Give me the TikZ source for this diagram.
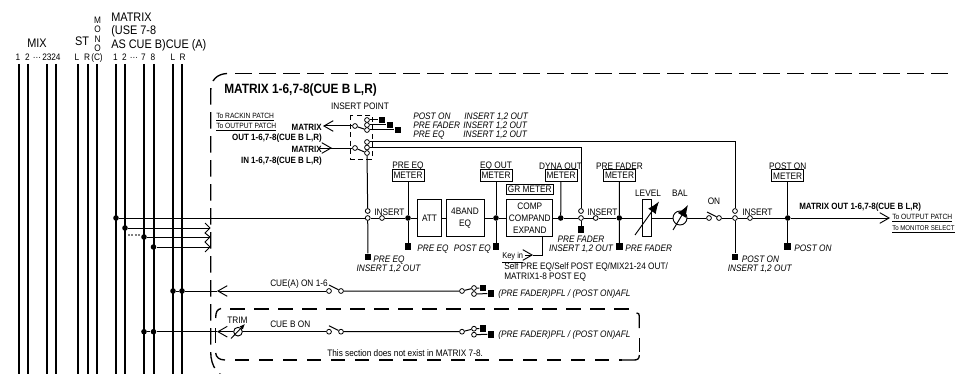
\documentclass[tikz,border=0pt]{standalone}
\usepackage{fontspec}
\setmainfont[FakeStretch=0.88]{Liberation Sans}
\usetikzlibrary{arrows.meta}
\newcommand{\fsN}{\fontsize{7.05}{7.5}\selectfont}
\newcommand{\fsS}{\fontsize{5.7}{6.5}\selectfont}
\newcommand{\fsH}{\fontsize{9.3}{10}\selectfont}
\newcommand{\fsT}{\fontsize{10.1}{11}\selectfont\bfseries}
\newcommand{\fsB}{\fontsize{6.8}{7.5}\selectfont\bfseries}
\tikzset{
  x=0.75pt,y=-0.75pt,
  conn/.style={line width=0.75pt},
  bus/.style={line width=1.5pt},
  thick dash/.style={line width=1pt},
  lbl/.style={inner sep=0pt,text height=.72em,text depth=0pt},
  txt/.style={lbl,font=\fsN},
  itxt/.style={lbl,font=\fsN\itshape},
  btxt/.style={lbl,font=\fsB},
  utxt/.style={lbl,font=\fsS},
  hdr/.style={lbl,font=\fsH},
  ttl/.style={lbl,font=\fsT},
  ring/.style={circle,draw,fill=white,inner sep=0pt,minimum size=3.6pt,line width=0.6pt},
  jdot/.style={circle,fill=black,inner sep=0pt,minimum size=4.2pt},
  sqr/.style={rectangle,fill=black,inner sep=0pt,minimum size=5.2pt},
  meterbox/.style={draw,rectangle,inner sep=0pt,minimum width=24pt,minimum height=9pt,line width=0.6pt,font=\fsN},
  blockbox/.style={draw,rectangle,inner sep=0pt,line width=0.7pt,minimum height=28pt,font=\fsN,align=center},
  barb/.style={-{Straight Barb[length=7pt,width=8pt,line width=0.7pt]},line width=0.75pt},
  bigarrow/.style={-{Latex[length=9pt,width=7pt]},line width=0.7pt},
}
\begin{document}
\begin{tikzpicture}
\clip (0,0) rectangle (955,374);
% header
\node[hdr] at (37,43) {MIX};
\node[hdr] at (82,41) {ST};
\node[hdr,anchor=west] at (165.5,44) {CUE (A)};
\node[hdr,anchor=west] at (111,17) {MATRIX};
\node[hdr,anchor=west] at (111,30) {(USE 7-8};
\node[hdr,anchor=west] at (111,44) {AS CUE B)};
\foreach \c/\y/\n in {M/19/m1,O/28/m2,N/37.5/m3,O/46.5/m4}
  \node[txt] (\n) at (97.5,\y) {\c};
\foreach \x/\t/\n in {18/1/a,27.5/2/b,37/···/c,47/23/d,56/24/e,77/L/f,87/R/g,97/(C)/h,115.5/1/i,124.5/2/j,134/···/k,143.5/7/l,153/8/m,173/L/n,182.5/R/o}
  \node[txt] (num\n) at (\x,56) {\t};
% buses
\foreach \x/\n in {18.5/a,28/b,47/c,56/d,78/e,87.5/f,97/g,116/h,125/i,144/j,153.5/k,173/l,182/m}{
  \coordinate (bt\n) at (\x,64);
  \coordinate (bb\n) at (\x,374);
  \draw[bus] (bt\n) -- (bb\n);
}
% outer dashed frame
\coordinate (oa) at (227,73.5);
\coordinate (ob) at (210.7,91);
\coordinate (oc) at (210.7,352);
\coordinate (od) at (232,378);
\coordinate (oe) at (235,73.5);
\coordinate (of) at (960,73.5);
\draw[thick dash,dash pattern=on 12.4pt off 5.6pt]
  (oa) .. controls (217,74) and (210.7,80) .. (ob) -- (oc) .. controls (210.7,366) and (218,378) .. (od);
\draw[thick dash,dash pattern=on 12.4pt off 5.6pt] (oe) -- (of);
% inner dashed frame
\coordinate (ia) at (230,309);
\coordinate (ib) at (632,309);
\draw[thick dash,dash pattern=on 11.2pt off 6.8pt] (ia) -- (ib);
\draw[thick dash] (221,308.5) .. controls (217,309.5) and (215.7,312) .. (215.7,318);
\draw[thick dash] (215.7,328) -- (215.7,343);
\draw[thick dash] (215.7,353) .. controls (216,357) and (219,360) .. (225,360);
\coordinate (ic) at (235,360);
\coordinate (id) at (622,360);
\draw[thick dash,dash pattern=on 10.2pt off 7.8pt] (ic) -- (id);
\draw[thick dash] (622,360) -- (634,360) .. controls (637.5,360) and (639.3,359) .. (639.3,355);
\draw[thick dash] (639.3,338) -- (639.3,352);
\draw[thick dash] (636.5,313) .. controls (638.5,313) and (639.3,314) .. (639.3,316) -- (639.3,328);
% title and patch labels
\node[ttl,anchor=west] at (224,89) {MATRIX 1-6,7-8(CUE B L,R)};
\node[txt] (ipt) at (360,105) {INSERT POINT};
\node[utxt,anchor=west] at (216,114) {\underline{To RACKIN PATCH}};
\node[utxt,anchor=west] at (216,124) {\underline{To OUTPUT PATCH}};
\node[btxt,anchor=east] at (322,126) {MATRIX};
\node[btxt,anchor=east] at (322,136) {OUT 1-6,7-8(CUE B L,R)};
\node[btxt,anchor=east] at (322,148) {MATRIX};
\node[btxt,anchor=east] at (322,159) {IN 1-6,7-8(CUE B L,R)};
% insert point switch
\draw[line width=0.6pt,dash pattern=on 4pt off 2.4pt] (350.7,115) rectangle (372,159);
\node[ring] (ro) at (355,126) {};
\node[ring] (ri) at (355,148) {};
\node[ring] (o1) at (367,120) {};
\node[ring] (o2) at (367,125) {};
\node[ring] (o3) at (367,130) {};
\node[ring] (i1) at (367,142) {};
\node[ring] (i2) at (367,147.5) {};
\node[ring] (i3) at (367,153) {};
\node[sqr] (s1) at (382,120) {};
\node[sqr] (s2) at (390,125) {};
\node[sqr] (s3) at (398,130) {};
\coordinate (otip) at (323,126);
\coordinate (itail) at (320,148);
\coordinate (itip) at (332,148);
\draw[barb] (ro) -- (otip);
\draw[conn] (itail) -- (ri);
\draw[barb] (itail) -- (itip);
\draw[conn] (ro) -- (o3);
\draw[conn] (ri) -- (i3);
\draw[conn] (o1) -- (s1);
\draw[conn] (o2) -- (s2);
\draw[conn] (o3) -- (s3);
\node[itxt,anchor=west] at (413,114.5) {POST ON};
\node[itxt,anchor=west] at (413,123.5) {PRE FADER};
\node[itxt,anchor=west] at (413,133) {PRE EQ};
\node[itxt,anchor=west] at (464,114.5) {INSERT 1,2 OUT};
\node[itxt,anchor=west] at (463,123.5) {INSERT 1,2 OUT};
\node[itxt,anchor=west] at (463,133) {INSERT 1,2 OUT};
% main-line elements
\node[jdot] (d1) at (116,218) {};
\node[jdot] (d2) at (125,228) {};
\node[jdot] (d3) at (144,237) {};
\node[jdot] (d4) at (153.5,247) {};
\node[ring] (a0) at (367.7,211) {};
\node[ring] (a1) at (367.7,218) {};
\node[ring] (a2) at (382,218) {};
\node[txt,anchor=west] at (374,211) {INSERT};
\node[sqr] (a3) at (368,257) {};
\node[itxt,anchor=west] at (373,258) {PRE EQ};
\node[itxt] at (388.5,267) {INSERT 1,2 OUT};
\node[jdot] (b0) at (408,218) {};
\node[meterbox] (bm) at (408,175.3) {METER};
\node[txt] at (408,164) {PRE EQ};
\node[sqr] (bs) at (408,246.7) {};
\node[itxt,anchor=west] at (417,247) {PRE EQ};
\node[blockbox,minimum width=18.3pt] (att) at (429.5,218) {ATT};
\node[blockbox,minimum width=28.5pt] (eq) at (465,218) {4BAND\\[1.7pt]EQ};
\node[jdot] (c0) at (496,218) {};
\node[meterbox] (cm) at (496,175.3) {METER};
\node[txt] at (496,164) {EQ OUT};
\node[sqr] (cs) at (496,246.7) {};
\node[itxt,anchor=east] at (491,247) {POST EQ};
\node[blockbox,minimum width=34.7pt] (comp) at (529.8,218) {COMP\\[1.7pt]COMPAND\\[1.7pt]EXPAND};
\node[draw,rectangle,inner sep=0pt,line width=0.6pt,minimum width=34.7pt,minimum height=7.7pt,font=\fsN] (gr) at (529.8,189.2) {GR METER};
\node[jdot] (e0) at (560.7,218) {};
\node[meterbox] (em) at (561,175.3) {METER};
\node[txt] at (560.5,165) {DYNA OUT};
\node[ring] (f0) at (581,211) {};
\node[ring] (f1) at (581,218) {};
\node[ring] (f2) at (595.7,218) {};
\node[txt,anchor=west] at (587,211) {INSERT};
\node[sqr] (fs) at (581,229.3) {};
\node[itxt] at (581,237.7) {PRE FADER};
\node[itxt] at (581,247) {INSERT 1,2 OUT};
\node[jdot] (g0) at (619.3,218) {};
\node[meterbox] (gm) at (619.5,175.3) {METER};
\node[txt] at (619.5,165) {PRE FADER};
\node[sqr] (gs) at (619.3,246.7) {};
\node[itxt,anchor=west] at (625,247) {PRE FADER};
\node[draw,rectangle,inner sep=0pt,line width=0.7pt,minimum width=6.8pt,minimum height=28pt] (lev) at (647.2,218) {};
\node[txt] at (648,192) {LEVEL};
\node[circle,draw,inner sep=0pt,minimum size=10.5pt,line width=0.7pt] (bal) at (680,218) {};
\node[txt] at (680,192) {BAL};
\node[txt] at (714,200) {ON};
\node[ring] (on1) at (709,218) {};
\node[ring] (on2) at (719,218) {};
\coordinate (onb) at (707,212);
\node[ring] (h0) at (735,211) {};
\node[ring] (h1) at (735,218) {};
\node[ring] (h2) at (750,218) {};
\node[txt,anchor=west] at (742,211) {INSERT};
\node[sqr] (hs) at (735,257) {};
\node[itxt,anchor=west] at (741.5,258) {POST ON};
\node[itxt] at (759.7,267) {INSERT 1,2 OUT};
\node[jdot] (k0) at (787.7,218) {};
\node[meterbox] (km) at (787.7,175.8) {METER};
\node[txt] at (787.7,164.5) {POST ON};
\node[sqr] (ks) at (787.7,246.7) {};
\node[itxt,anchor=west] at (794,247) {POST ON};
\coordinate (mtip) at (890,218);
\node[btxt,anchor=west] at (799,205) {MATRIX OUT 1-6,7-8(CUE B L,R)};
\node[utxt,anchor=west] at (892,215) {\underline{To OUTPUT PATCH}};
\node[lbl,font=\fontsize{5.2}{6}\selectfont,anchor=west] at (892,225.7) {\underline{To MONITOR SELECT}};
% main-line connectors
\draw[conn] (d1) -- (a1) -- (a2) -- (b0) -- (att) (att) -- (eq) (eq) -- (c0) -- (comp) (comp) -- (e0) -- (f1) -- (f2) -- (g0) -- (lev) (lev) -- (bal) (bal) -- (on1) (on2) -- (h1) -- (h2) -- (k0);
\draw[barb] (k0) -- (mtip);
\draw[conn] (onb) -- (on2);
\draw[conn] (i3) -- (a0);
\draw[conn] (a1) -- (a3);
\draw[conn] (i2) -| (f0);
\draw[conn] (i1) -| (h0);
\draw[conn] (f1) -- (fs);
\draw[conn] (h1) -- (hs);
\foreach \j/\m/\s in {b0/bm/bs,c0/cm/cs,g0/gm/gs,k0/km/ks}{
  \draw[conn] (\m) -- (\j) -- (\s);
}
\draw[conn] (e0) -- (em);
\coordinate (la) at (635,235);
\coordinate (lb) at (659,201.5);
\coordinate (ba) at (673,230);
\coordinate (bb) at (688,205);
\draw[bigarrow] (la) -- (lb);
\draw[bigarrow] (ba) -- (bb);
% key in
\node[lbl,font=\fontsize{6.4}{7}\selectfont,anchor=west] at (502,254) {\underline{Key in}};
\coordinate (kc) at (542,236.7);
\coordinate (kt) at (533,255);
\coordinate (kq) at (525,255);
\draw[conn] (kc) |- (kt);
\draw[barb] (kq) -- (kt);
\node[txt,anchor=west] at (504,265) {Self PRE EQ/Self POST EQ/MIX21-24 OUT/};
\node[txt,anchor=west] at (504,274.5) {MATRIX1-8 POST EQ};
% matrix send lines
\coordinate (z1) at (205,223);
\coordinate (z2) at (210,228);
\coordinate (z3) at (205,233);
\coordinate (z4) at (210,237);
\coordinate (z5) at (205,242);
\coordinate (z6) at (210,247);
\coordinate (z7) at (205,252);
\draw[conn] (z1) -- (z2) -- (z3) -- (z4) -- (z5) -- (z6) -- (z7);
\draw[conn] (d2) -- (z2);
\draw[conn] (d3) -- (z4);
\draw[conn] (d4) -- (z6);
\coordinate (dq1) at (128,235);
\coordinate (dq2) at (141,235);
\draw[line width=0.8pt,gray,dash pattern=on 1.5pt off 1pt] (dq1) -- (dq2);
% cue A
\node[jdot] (ca1) at (173,291) {};
\node[jdot] (ca2) at (182,291) {};
\coordinate (cat) at (217,291);
\node[ring] (ca3) at (329,291) {};
\node[ring] (ca4) at (341,291) {};
\coordinate (cab) at (329,285);
\node[ring] (ca5) at (462,291) {};
\node[ring] (ca6) at (474,288) {};
\node[ring] (ca7) at (474,294) {};
\node[sqr] (ca8) at (483,288) {};
\node[sqr] (ca9) at (491,293.5) {};
\node[txt,anchor=west] at (270,282) {CUE(A) ON 1-6};
\node[itxt,anchor=west] at (498,292) {(PRE FADER)PFL / (POST ON)AFL};
\draw[conn] (ca1) -- (ca2);
\draw[barb] (ca3) -- (cat);
\draw[conn] (ca2) -- (cat);
\draw[conn] (cab) -- (ca4);
\draw[conn] (ca4) -- (ca5) -- (ca6) -- (ca8);
\draw[conn] (ca7) -- (ca9);
% cue B
\node[jdot] (cb1) at (144,331.7) {};
\node[jdot] (cb2) at (153.5,331.7) {};
\coordinate (cbt) at (217,331.7);
\node[circle,draw,inner sep=0pt,minimum size=6.5pt,line width=0.7pt] (trim) at (238,331.7) {};
\coordinate (ta) at (231,338.5);
\coordinate (tb) at (245,324);
\draw[-{Latex[length=4pt,width=3.5pt]},line width=0.7pt] (ta) -- (tb);
\node[txt] at (237.5,319) {TRIM};
\node[ring] (cb3) at (329,331.7) {};
\node[ring] (cb4) at (341,331.7) {};
\coordinate (cbb) at (329,325.7);
\node[ring] (cb5) at (462,331.7) {};
\node[ring] (cb6) at (474,328.7) {};
\node[ring] (cb7) at (474,334.7) {};
\node[sqr] (cb8) at (483,328.7) {};
\node[sqr] (cb9) at (491,334.2) {};
\node[txt,anchor=west] at (270,322.7) {CUE B ON};
\node[itxt,anchor=west] at (498,332.5) {(PRE FADER)PFL / (POST ON)AFL};
\node[txt,anchor=west] at (327,352) {This section does not exist in MATRIX 7-8.};
\draw[conn] (cb1) -- (cb2);
\draw[conn] (cb2) -- (cbt);
\draw[barb] (trim) -- (cbt);
\draw[conn] (trim) -- (cb3);
\draw[conn] (cbb) -- (cb4);
\draw[conn] (cb4) -- (cb5) -- (cb6) -- (cb8);
\draw[conn] (cb7) -- (cb9);
\end{tikzpicture}
\end{document}
